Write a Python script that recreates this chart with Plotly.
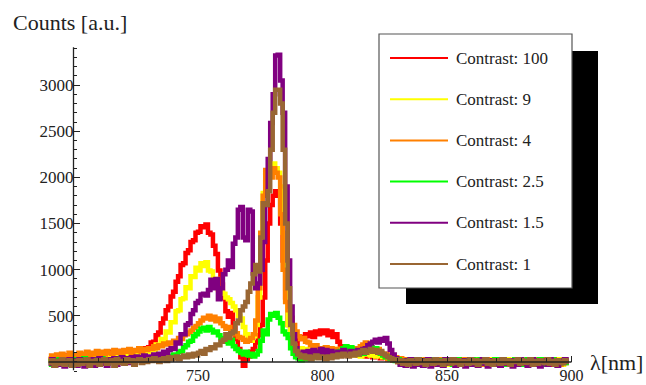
import plotly.graph_objects as go

# ---------------- data ----------------
wavelength = list(range(690, 899))  # nm, 1 nm steps

series_names = ["Contrast: 100", "Contrast: 9", "Contrast: 4",
                "Contrast: 2.5", "Contrast: 1.5", "Contrast: 1"]
series_colors = ["#FF0000", "#FFFF00", "#FF8000", "#00FF00", "#800080", "#996633"]

contrast_100 = [
    30, 10, 50, 20, 60, 40, 20, 70, 50, 30,
    60, 30, 80, 40, 70, 50, 90, 40, 80, 60,
    100, 60, 90, 70, 110, 60, 100, 80, 120, 80,
    110, 90, 130, 90, 120, 100, 140, 110, 150, 130,
    160, 210, 220, 290, 320, 420, 470, 560, 600, 710,
    760, 870, 930, 1050, 1070, 1180, 1210, 1300, 1320, 1400,
    1410, 1470, 1460, 1490, 1400, 1380, 1260, 1170, 990, 840,
    690, 550, 490, 530, 370, 250, 140, 50, -40, 30,
    60, 110, 140, 210, 290, 400, 700, 1100, 1500, 1700,
    1800, 1850, 1800, 1500, 1100, 700, 400, 280, 220, 190,
    250, 270, 250, 300, 280, 320, 270, 330, 300, 340,
    310, 340, 290, 330, 270, 300, 220, 170, 140, 110,
    90, 130, 80, 110, 70, 120, 90, 60, 110, 80,
    50, 90, 70, 40, 80, 50, 30, 60, 20, 40,
    0, 30, -10, 30, -20, 10, -30, 20, -10, 20,
    -20, 30, 0, -30, 20, -10, 30, -20, 10, -30,
    20, -10, 30, -20, 10, 0, 30, -30, 20, -10,
    10, -20, 30, 0, -30, 20, -10, 30, -20, 10,
    -30, 20, 0, 30, -20, 10, -10, 30, -30, 20,
    0, -20, 30, -10, 20, -30, 10, 30, -20, 0,
    20, -30, 10, 30, -20, 0, 20, -10, 10,
]

contrast_9 = [
    20, 40, 0, 50, 30, 10, 60, 20, 40, 10,
    50, 30, 60, 20, 70, 40, 60, 30, 80, 50,
    70, 40, 90, 60, 80, 50, 100, 70, 90, 60,
    100, 80, 110, 70, 120, 90, 110, 100, 130, 110,
    110, 150, 130, 190, 180, 250, 240, 330, 320, 430,
    430, 550, 560, 680, 690, 810, 800, 930, 920, 1020,
    990, 1070, 1040, 1080, 990, 980, 860, 900, 780, 770,
    740, 700, 680, 640, 600, 560, 500, 470, 380, 300,
    250, 230, 280, 400, 700, 1200, 1830, 1950, 2050, 2100,
    2150, 2100, 2050, 1900, 1400, 800, 400, 250, 180, 140,
    120, 150, 110, 140, 100, 130, 90, 140, 110, 150,
    130, 160, 120, 150, 110, 140, 100, 120, 90, 110,
    80, 100, 70, 110, 90, 60, 100, 80, 110, 70,
    90, 60, 100, 70, 50, 80, 40, 60, 20, 40,
    10, 30, -10, 20, -20, 30, 0, -30, 20, -10,
    30, -20, 10, -30, 20, 0, -20, 30, -10, 20,
    -30, 10, 30, -10, 20, -20, 0, 30, -30, 10,
    20, -10, 30, -20, 0, 20, -30, 10, 30, -20,
    10, -30, 20, 0, 30, -10, 20, -20, 10, 30,
    -10, 20, -30, 10, 0, 30, -20, 10, -10, 20,
    30, -20, 0, 20, -10, 30, -30, 10, 0,
]

contrast_4 = [
    40, 70, 30, 80, 50, 90, 40, 60, 100, 50,
    80, 60, 100, 70, 90, 110, 70, 100, 80, 120,
    90, 110, 80, 120, 100, 90, 130, 100, 120, 90,
    130, 110, 140, 100, 130, 120, 150, 110, 140, 130,
    150, 140, 170, 150, 180, 170, 200, 190, 210, 200,
    230, 220, 260, 250, 290, 300, 320, 340, 370, 390,
    420, 450, 480, 470, 500, 460, 490, 440, 470, 420,
    390, 360, 380, 330, 300, 310, 270, 260, 240, 220,
    230, 260, 300, 450, 800, 1400, 1800, 2080, 2050, 2000,
    2100, 2050, 2000, 1600, 1000, 650, 560, 480, 400, 330,
    280, 250, 260, 220, 210, 180, 160, 180, 140, 150,
    130, 160, 120, 150, 110, 140, 120, 100, 130, 110,
    120, 140, 110, 150, 130, 170, 190, 210, 180, 160,
    130, 110, 140, 100, 80, 90, 60, 70, 40, 50,
    20, 40, 0, 30, -20, 10, 30, -10, 20, -30,
    10, 30, -20, 0, 20, -30, 10, 30, -10, 20,
    0, -20, 30, 10, -30, 20, -10, 30, 0, -20,
    30, -10, 20, -30, 10, 30, -20, 0, 20, -10,
    20, 30, -20, 10, -30, 20, 0, -10, 30, -20,
    10, -30, 20, 0, 30, -10, 20, -20, 10, 30,
    -20, 10, 30, -10, 20, -30, 0, 20, -10,
]

contrast_2_5 = [
    10, -30, 20, -10, 30, 0, -20, 20, -30, 10,
    30, -10, 20, 0, 40, -20, 30, 10, -10, 30,
    0, 40, 10, -20, 30, 20, 0, 40, 10, 30,
    20, 40, 10, 30, 50, 20, 40, 30, 50, 20,
    40, 30, 50, 40, 30, 60, 40, 70, 50, 60,
    80, 70, 110, 120, 160, 180, 220, 230, 280, 300,
    330, 360, 370, 340, 380, 350, 320, 330, 290, 260,
    250, 220, 200, 240, 170, 140, 120, 100, 80, 110,
    70, 90, 60, 80, 120, 230, 340, 300, 460, 520,
    500, 530, 480, 420, 330, 300, 260, 150, 90, 50,
    40, 20, 50, 30, 60, 40, 70, 50, 80, 60,
    70, 90, 60, 80, 100, 70, 110, 120, 150, 170,
    150, 160, 130, 100, 80, 110, 90, 120, 140, 160,
    130, 150, 110, 90, 70, 50, 60, 30, 40, 10,
    30, -10, 20, -30, 10, 30, -20, 0, 30, -10,
    20, -30, 10, 30, -20, 0, 20, -30, 10, 30,
    -10, 20, -30, 10, 30, -20, 0, 20, -30, 10,
    30, -20, 0, 30, -10, 20, -30, 10, 0, 30,
    -20, 10, 30, -30, 20, 0, -20, 30, -10, 20,
    -30, 10, 30, 0, -20, 20, -10, 30, -30, 10,
    20, -20, 30, 0, -30, 10, 20, -10, 30,
]

contrast_1_5 = [
    -20, 30, -40, 10, -30, 20, -50, 0, 30, -30,
    20, -40, 30, -10, -50, 20, -20, 30, -40, 10,
    40, -20, 20, -40, 30, 0, 40, -30, 20, 50,
    10, 40, -10, 50, 20, 60, 30, 50, 70, 40,
    60, 40, 80, 50, 90, 70, 110, 90, 130, 150,
    140, 210, 200, 300, 300, 400, 420, 520, 560, 640,
    660, 730, 740, 720, 780, 890, 800, 900, 680, 800,
    950, 1000, 1100, 1030, 1280, 1350, 1650, 1680, 1350, 1320,
    1650, 1630, 960, 800, 850, 1000, 1300, 1700, 2200, 2590,
    2900, 3320, 3330, 3050, 2700, 1900, 1100, 600, 300, 150,
    90, 60, 110, 80, 120, 100, 130, 90, 110, 140,
    100, 130, 90, 120, 100, 80, 110, 90, 130, 100,
    80, 120, 90, 110, 130, 100, 140, 150, 180, 200,
    220, 240, 210, 250, 230, 260, 200, 130, 80, 40,
    10, -30, 20, -40, 0, 30, -50, 10, -30, 20,
    -40, 10, 30, -50, 0, 20, -30, 10, -40, 30,
    -20, 0, 30, -40, 10, -30, 20, -50, 0, 30,
    -30, 20, -40, 10, 30, -20, -50, 0, 20, -30,
    10, -40, 30, -20, 0, 20, -50, 10, -30, 30,
    -20, 0, -40, 20, 30, -30, 10, -50, 20, 0,
    -30, 30, -20, 10, -40, 20, -10, 30, -20,
]

contrast_1 = [
    -10, 20, -40, 10, -20, 30, -30, 0, 20, -40,
    10, -30, 20, -20, 0, 30, -40, 10, -10, 20,
    -30, 10, 30, -20, 0, 20, -40, 30, -10, 10,
    -20, 30, 0, 20, -30, 10, 30, -10, 20, 0,
    30, 10, 40, 20, 0, 30, 40, 10, 50, 30,
    40, 60, 30, 50, 70, 50, 80, 60, 90, 70,
    100, 120, 90, 140, 130, 160, 150, 190, 180, 220,
    240, 300, 260, 310, 330, 420, 450, 560, 600, 650,
    760, 850, 950, 1050, 980, 1350, 1720, 1700, 1850, 2300,
    2700, 2950, 2950, 2800, 2300, 1500, 800, 400, 200, 120,
    80, 50, 70, 40, 60, 30, 50, 70, 40, 60,
    50, 30, 60, 40, 70, 50, 80, 60, 90, 70,
    60, 90, 70, 100, 80, 110, 130, 100, 120, 140,
    110, 130, 100, 120, 90, 70, 50, 40, 20, 30,
    0, 20, -20, 10, -30, 20, 0, -20, 30, -10,
    10, -30, 20, 0, -20, 30, -10, 10, -30, 20,
    0, -20, 30, -10, 20, -30, 10, 0, -20, 30,
    -10, 20, -30, 10, 0, 30, -20, 10, -30, 20,
    0, -20, 30, -10, 20, -30, 10, 0, 30, -20,
    20, -10, 0, 30, -30, 10, -20, 20, 0, -10,
    30, -20, 10, -30, 20, 0, -10, 20, -20,
]

series_values = [contrast_100, contrast_9, contrast_4,
                 contrast_2_5, contrast_1_5, contrast_1]

x_major_ticks = [750, 800, 850, 900]
y_major_ticks = [500, 1000, 1500, 2000, 2500, 3000]

# ---------------- layout geometry ----------------
W, H = 646, 385
L, R, T, B = 48, 62, 43, 4
plot_w = W - L - R
plot_h = H - T - B
x_range = [689.76, 689.76 + plot_w / 2.49]
y_range = [-206, -206 + plot_h / 0.0923]


def px2x(px):
    return (px - L) / plot_w


def py2y(py):
    return (H - B - py) / plot_h


font_family = "Liberation Serif, Times New Roman, serif"

fig = go.Figure()
for name, color, vals in zip(series_names, series_colors, series_values):
    fig.add_trace(go.Scatter(
        x=wavelength[:len(vals)], y=vals, mode="lines", name=name,
        line=dict(color=color, width=4.5, shape="hv"),
        showlegend=False, hoverinfo="skip",
    ))

x_axis_pos = (0 - y_range[0]) / (y_range[1] - y_range[0])
y_axis_pos = (700 - x_range[0]) / (x_range[1] - x_range[0])

shapes = [
    # axis lines
    dict(type="line", xref="x", yref="y", x0=690, x1=900, y0=0, y1=0,
         line=dict(color="#222", width=1.3), layer="above"),
    dict(type="line", xref="x", yref="y", x0=700, x1=700, y0=-90, y1=3410,
         line=dict(color="#222", width=1.3), layer="above"),
    # legend shadow and box
    dict(type="rect", xref="paper", yref="paper",
         x0=px2x(406), x1=px2x(598), y0=py2y(304), y1=py2y(51),
         fillcolor="black", line=dict(width=0), layer="above"),
    dict(type="rect", xref="paper", yref="paper",
         x0=px2x(379), x1=px2x(572), y0=py2y(288), y1=py2y(34),
         fillcolor="white", line=dict(color="#555", width=1.2), layer="above"),
]
annotations = [
    dict(text="Counts [a.u.]", xref="paper", yref="paper", x=px2x(11), y=py2y(22),
         xanchor="left", yanchor="middle", showarrow=False,
         font=dict(family=font_family, size=22, color="#222")),
    dict(text="λ[nm]", xref="paper", yref="paper", x=px2x(588), y=py2y(362),
         xanchor="left", yanchor="middle", showarrow=False,
         font=dict(family=font_family, size=22, color="#222")),
]
row_y0, row_dy = 58, 41.2
for i, (name, color) in enumerate(zip(series_names, series_colors)):
    yy = py2y(row_y0 + i * row_dy)
    shapes.append(dict(type="line", xref="paper", yref="paper",
                       x0=px2x(390), x1=px2x(448), y0=yy, y1=yy,
                       line=dict(color=color, width=2), layer="above"))
    annotations.append(dict(text=name, xref="paper", yref="paper",
                            x=px2x(454), y=yy, xanchor="left", yanchor="middle",
                            showarrow=False,
                            font=dict(family=font_family, size=17, color="#222")))

fig.update_layout(
    width=W, height=H,
    margin=dict(l=L, r=R, t=T, b=B, pad=0, autoexpand=False),
    paper_bgcolor="white", plot_bgcolor="white",
    shapes=shapes, annotations=annotations,
    xaxis=dict(range=x_range, anchor="free", position=x_axis_pos,
               automargin=False,
               showgrid=False, zeroline=False, showline=False,
               tickmode="array", tickvals=x_major_ticks,
               ticks="inside", ticklen=6, tickwidth=1.2, tickcolor="#222",
               ticklabelstandoff=2,
               minor=dict(dtick=10, tick0=700, ticks="inside", ticklen=4,
                          tickwidth=1, tickcolor="#222"),
               tickfont=dict(family=font_family, size=16, color="#222")),
    yaxis=dict(range=y_range, anchor="free", position=y_axis_pos,
               automargin=False,
               showgrid=False, zeroline=False, showline=False,
               tickmode="array", tickvals=y_major_ticks,
               ticks="inside", ticklen=6, tickwidth=1.2, tickcolor="#222",
               minor=dict(dtick=100, tick0=0, ticks="inside", ticklen=3,
                          tickwidth=1, tickcolor="#222"),
               tickfont=dict(family=font_family, size=17, color="#222")),
)

fig.write_html("out.html")
